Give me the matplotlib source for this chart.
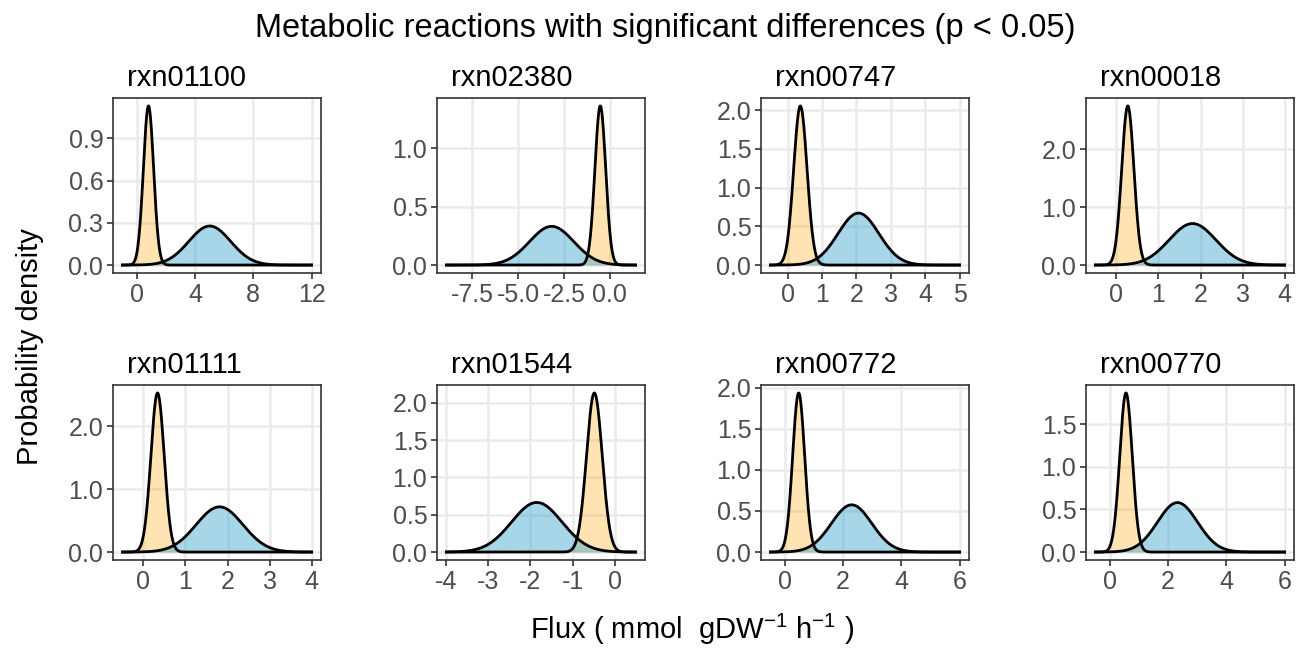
import numpy as np
import matplotlib
matplotlib.use("Agg")
import matplotlib.pyplot as plt
from matplotlib.ticker import FixedLocator

plt.rcParams['font.family'] = ['Liberation Sans', 'DejaVu Sans']
plt.rcParams['axes.unicode_minus'] = False
plt.rcParams['mathtext.fontset'] = 'custom'
plt.rcParams['mathtext.rm'] = 'Liberation Sans'

# reactions shown, in facet order
reactions = ["rxn01100", "rxn02380", "rxn00747", "rxn00018",
             "rxn01111", "rxn01544", "rxn00772", "rxn00770"]

# group 1 (orange) and group 2 (blue): mean and sd of the flux distributions
orange_mean = [0.79, -0.52, 0.37, 0.27, 0.335, -0.48, 0.47, 0.55]
orange_sd = [0.353, 0.293, 0.194, 0.145, 0.158, 0.187, 0.206, 0.214]
blue_mean = [5.0, -3.17, 2.06, 1.81, 1.81, -1.85, 2.29, 2.32]
blue_sd = [1.44, 1.205, 0.594, 0.556, 0.556, 0.60, 0.694, 0.688]

# flux range sampled in each facet
flux_min = [-1.0, -8.9, -0.5, -0.5, -0.5, -4.0, -0.5, -0.5]
flux_max = [12.0, 1.4, 5.0, 4.0, 4.0, 0.5, 6.0, 6.0]

# tick breaks
x_breaks = [[0, 4, 8, 12], [-7.5, -5.0, -2.5, 0.0], [0, 1, 2, 3, 4, 5], [0, 1, 2, 3, 4],
            [0, 1, 2, 3, 4], [-4, -3, -2, -1, 0], [0, 2, 4, 6], [0, 2, 4, 6]]
x_labels = [["0", "4", "8", "12"], ["-7.5", "-5.0", "-2.5", "0.0"],
            ["0", "1", "2", "3", "4", "5"], ["0", "1", "2", "3", "4"],
            ["0", "1", "2", "3", "4"], ["-4", "-3", "-2", "-1", "0"],
            ["0", "2", "4", "6"], ["0", "2", "4", "6"]]
y_breaks = [[0, 0.3, 0.6, 0.9], [0, 0.5, 1.0], [0, 0.5, 1.0, 1.5, 2.0], [0, 1.0, 2.0],
            [0, 1.0, 2.0], [0, 0.5, 1.0, 1.5, 2.0], [0, 0.5, 1.0, 1.5, 2.0], [0, 0.5, 1.0, 1.5]]

ORANGE = "#FFA500"
BLUE = "#3DA5D0"
GRID = "#EBEBEB"
DARK = "#333333"
TICKTXT = "#4D4D4D"


def normal_pdf(x, mu, sd):
    return np.exp(-0.5 * ((x - mu) / sd) ** 2) / (sd * np.sqrt(2 * np.pi))


W, H = 1297, 648
fig = plt.figure(figsize=(W / 100, H / 100), dpi=100)

lefts = [113, 437, 761, 1086]
tops = [98, 385]
pw, ph = 208, 175

for i, rxn in enumerate(reactions):
    row, col = divmod(i, 4)
    ax = fig.add_axes([lefts[col] / W, 1 - (tops[row] + ph) / H, pw / W, ph / H])

    x = np.linspace(flux_min[i], flux_max[i], 600)
    y1 = normal_pdf(x, orange_mean[i], orange_sd[i])
    y2 = normal_pdf(x, blue_mean[i], blue_sd[i])

    ax.fill_between(x, 0, y1, color=ORANGE, alpha=0.3, lw=0, zorder=2)
    ax.fill_between(x, 0, y2, color=BLUE, alpha=0.45, lw=0, zorder=2)
    ax.plot(x, y1, color="black", lw=2.0, zorder=3)
    ax.plot(x, y2, color="black", lw=2.0, zorder=3)

    # ggplot-style 5% expansion
    xr = flux_max[i] - flux_min[i]
    ax.set_xlim(flux_min[i] - 0.05 * xr, flux_max[i] + 0.05 * xr)
    ymax = max(y1.max(), y2.max())
    ax.set_ylim(-0.05 * ymax, 1.05 * ymax)

    xb, yb = x_breaks[i], y_breaks[i]
    ax.set_xticks(xb)
    ax.set_xticklabels(x_labels[i])
    ax.set_yticks(yb)
    ax.set_yticklabels([f"{v:.1f}" for v in yb])
    xs, ys = xb[1] - xb[0], yb[1] - yb[0]
    ax.xaxis.set_minor_locator(FixedLocator(np.arange(xb[0] - 2.5 * xs, xb[-1] + 2.5 * xs, xs) + xs / 2))
    ax.yaxis.set_minor_locator(FixedLocator(np.arange(yb[0] - 1.5 * ys, yb[-1] + 2.5 * ys, ys) + ys / 2))

    ax.grid(True, which="major", color=GRID, lw=1.8, zorder=0)
    ax.grid(True, which="minor", color=GRID, lw=0.9, zorder=0)
    ax.set_axisbelow(True)
    ax.tick_params(which="major", length=4, width=1.2, color=DARK,
                   labelsize=18, labelcolor=TICKTXT, pad=3)
    ax.tick_params(which="minor", length=0)
    for s in ax.spines.values():
        s.set_color(DARK)
        s.set_linewidth(1.2)

    ax.text(0.065, 1.035, rxn, transform=ax.transAxes, ha="left", va="bottom",
            fontsize=21, color="black")

fig.text(665 / W, 1 - 28 / H, "Metabolic reactions with significant differences (p < 0.05)",
         ha="center", va="center", fontsize=23.5)
fig.text(692 / W, 1 - 629 / H, r"Flux ( mmol  gDW$^{-1}$ h$^{-1}$ )",
         ha="center", va="center", fontsize=21)
fig.text(30 / W, 1 - 347 / H, "Probability density", rotation=90,
         ha="center", va="center", fontsize=21)

fig.savefig("out.png", dpi=100)
